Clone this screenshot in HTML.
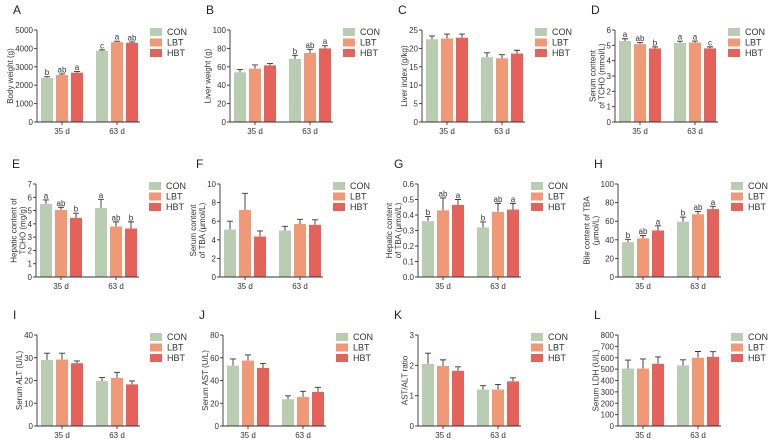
<!DOCTYPE html>
<html><head><meta charset="utf-8">
<style>
html,body{margin:0;padding:0;background:#fff;}
svg{display:block;font-family:"Liberation Sans",sans-serif;}
</style></head>
<body>
<svg id="chart" width="775" height="444" viewBox="0 0 775 444" xmlns="http://www.w3.org/2000/svg"></svg>
<script>
const groups = ["35 d", "63 d"];
const seriesNames = ["CON", "LBT", "HBT"];
const seriesColors = ["#b9cdb3", "#ef9977", "#e5625a"];

const panelIds = ["A","B","C","D","E","F","G","H","I","J","K","L"];
const yLabels = [["Body weight (g)"],["Liver weight (g)"],["Liver index (g/kg)"],["Serum content","of TCHO (mmol/L)"],
  ["Hepatic content of","TCHO (mg/g)"],["Serum content","of TBA (μmol/L)"],["Hepatic content","of TBA (μmol/L)"],["Bile content of TBA","(μmol/L)"],
  ["Serum ALT (U/L)"],["Serum AST (U/L)"],["AST/ALT ratio"],["Serum LDH (U/L)"]];
const yMax = [5000,100,25,6,7,10,0.6,100,40,80,3,800];
const yStep = [1000,20,5,1,1,2,0.1,20,10,20,1,100];
const yDecimals = [0,0,0,0,0,0,1,0,0,0,0,0];
const means = [
 [[2400,2550,2680],[3870,4340,4300]],
 [[54,58,61.5],[68.5,75,80]],
 [[22.5,22.7,22.9],[17.6,17.3,18.6]],
 [[5.28,5.08,4.8],[5.15,5.18,4.8]],
 [[5.5,5.05,4.45],[5.2,3.8,3.65]],
 [[5.1,7.2,4.35],[5.0,5.7,5.6]],
 [[0.36,0.43,0.465],[0.32,0.42,0.435]],
 [[37.5,41.5,50],[59.5,67.5,73]],
 [[29,29.2,27.6],[19.8,21.1,18.3]],
 [[53,57.5,51],[23.5,25.5,30]],
 [[2.05,1.98,1.82],[1.2,1.2,1.47]],
 [[505,505,547],[532,600,608]]
];
const errors = [
 [[60,60,60],[50,50,50]],
 [[3,4,2],[4,4,3]],
 [[0.9,1.2,1],[1.2,1,0.9]],
 [[0.15,0.1,0.1],[0.12,0.1,0.1]],
 [[0.3,0.2,0.35],[0.65,0.35,0.5]],
 [[0.9,1.8,0.6],[0.45,0.5,0.55]],
 [[0.03,0.08,0.035],[0.035,0.055,0.04]],
 [[3,3,5],[5,3,3]],
 [[3,2.8,1],[1.5,2.5,1.5]],
 [[6,5,4],[3,5,4]],
 [[0.35,0.2,0.13],[0.13,0.17,0.12]],
 [[75,85,60],[50,55,45]]
];
const letters = [
 [["b","ab","a"],["c","a","ab"]],
 [["","",""],["b","ab","a"]],
 [["","",""],["","",""]],
 [["a","ab","b"],["a","a","c"]],
 [["a","ab","b"],["a","ab","b"]],
 [["","",""],["","",""]],
 [["b","ab","a"],["b","ab","a"]],
 [["b","ab","a"],["b","ab","a"]],
 [["","",""],["","",""]],
 [["","",""],["","",""]],
 [["","",""],["","",""]],
 [["","",""],["","",""]]
];

const axisX = [37,230,422,615, 36,220,418,618, 37,223,418,618];
const rowTop = [30,184,335], rowBottom = [122,277,426];
const W = 103;
const NS = "http://www.w3.org/2000/svg";
const svg = document.getElementById("chart");
function mk(tag, attrs, parent){ const e=document.createElementNS(NS,tag); for(const k in attrs) e.setAttribute(k,attrs[k]); (parent||svg).appendChild(e); return e; }

panelIds.forEach((pid,p)=>{
  const row = Math.floor(p/4);
  const x0 = axisX[p], top = rowTop[row], bot = rowBottom[row];
  const g = mk("g",{});
  
  
  const yS = v => bot - v/yMax[p]*(bot-top);
  const xS = (gi,si) => x0 + 4 + gi*55 + si*15;
  const lab = mk("text",{x:x0-24,y:top-16,"font-size":12,fill:"#222"},g); lab.textContent=pid;
  
  
  means[p].forEach((gv,gi)=>gv.forEach((v,si)=>{
    const bx = xS(gi,si), by = yS(v), ey = yS(v+errors[p][gi][si]);
    const bc = bx+6;
    const eb = mk("path",{d:`M${bc},${by}V${ey}M${bc-3},${ey}H${bc+3}`,stroke:"#333","stroke-width":0.9,fill:"none"},g);
    
    
    const r = mk("rect",{x:bx,y:by,width:12,height:bot-by,fill:seriesColors[si]},g);
    
    
    const L = letters[p][gi][si];
    if(L){ const t=mk("text",{x:bc,y:ey-1.5,"font-size":8,"text-anchor":"middle",fill:"#333"},g); t.textContent=L;
      
       }
  }));
  const ax = mk("path",{d:`M${x0},${top}V${bot}H${x0+W}`,stroke:"#333","stroke-width":0.9,fill:"none"},g);
  
  
  const n = Math.round(yMax[p]/yStep[p]);
  let tw = 0;
  for(let i=0;i<=n;i++){
    const v=i*yStep[p], y=yS(v);
    mk("line",{x1:x0-3,x2:x0,y1:y,y2:y,stroke:"#333","stroke-width":0.9},g);
    const s=v.toFixed(yDecimals[p]);
    const t=mk("text",{x:x0-4,y:y+3,"font-size":8,"text-anchor":"end",fill:"#333"},g);
    t.textContent=s;
    
    
    let w=0; for(const c of s) w += (c==='.')?2.2:4.45;
    tw=Math.max(tw,w);
  }
  groups.forEach((gn,gi)=>{
    const cx = xS(gi,1)+6;
    mk("line",{x1:cx,x2:cx,y1:bot,y2:bot+3,stroke:"#333","stroke-width":0.9},g);
    const t=mk("text",{x:cx,y:bot+12,"font-size":8,"text-anchor":"middle",fill:"#333"},g);
    t.textContent=gn;
    
    
  });
  const lines = yLabels[p];
  const cy=(top+bot)/2;
  lines.forEach((ln,li)=>{
    const lx = lines.length===1 ? x0-tw-6 : x0-tw-6-(1-li)*9;
    const t=mk("text",{x:lx,y:cy,"font-size":8,"text-anchor":"middle",fill:"#333",transform:`rotate(-90 ${lx} ${cy})`},g);
    t.textContent=ln;
    
    
  });
  seriesNames.forEach((sn,si)=>{
    const ly = top+2+si*10.5;
    const lg = mk("g",{},g);
    
    
    mk("rect",{x:x0+113,y:ly-4,width:12,height:8,fill:seriesColors[si]},lg);
    const t=mk("text",{x:x0+130,y:ly+3,"font-size":9,fill:"#333"},lg); t.textContent=sn;
  });
});
</script>
</body></html>
